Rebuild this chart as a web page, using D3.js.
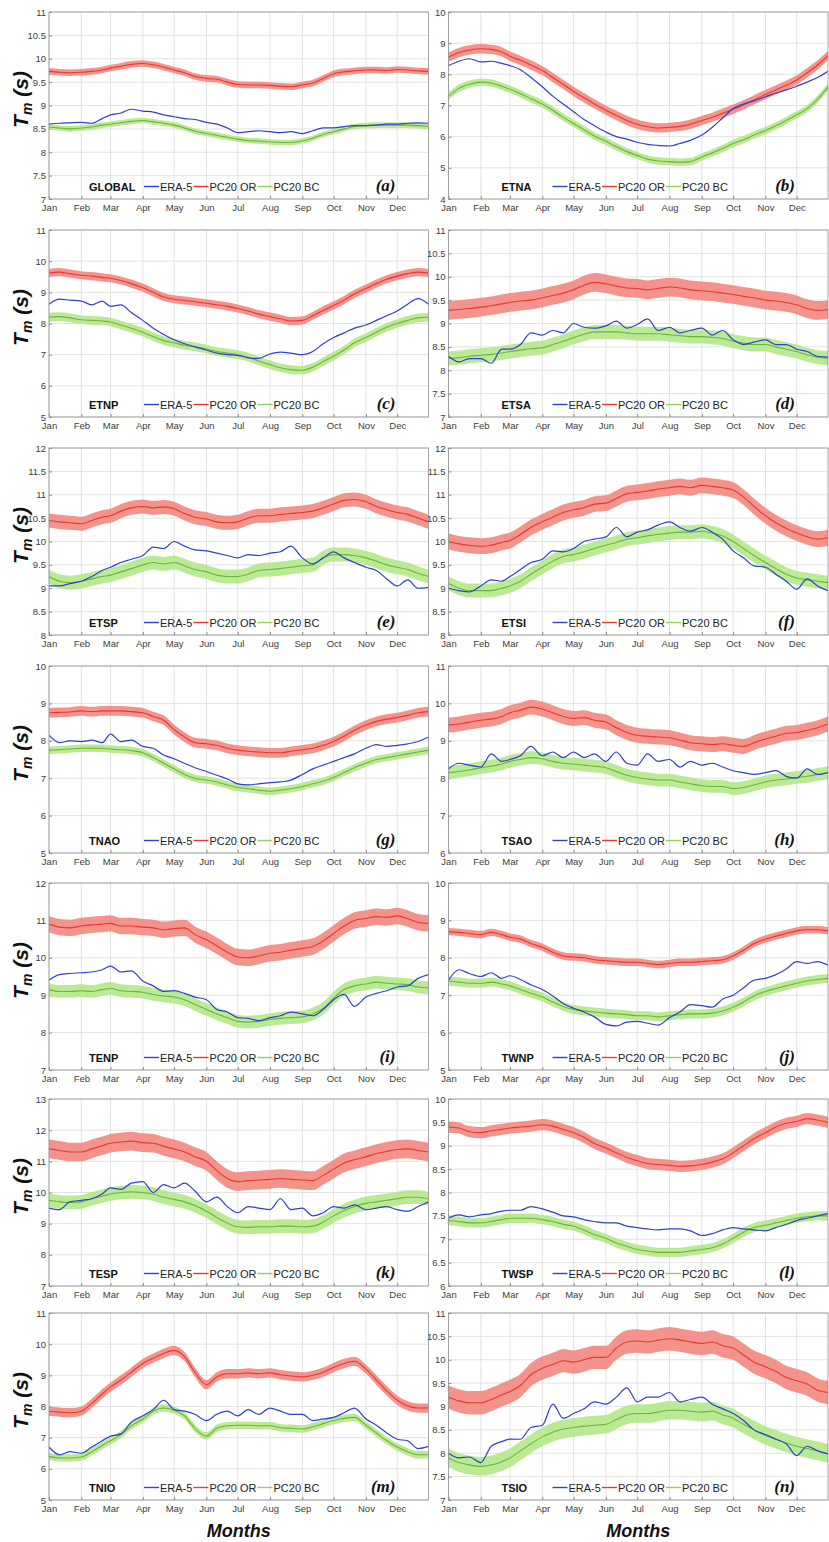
<!DOCTYPE html>
<html>
<head>
<meta charset="utf-8">
<script src="https://cdn.jsdelivr.net/npm/d3@7"></script>
<style>
  html, body { margin: 0; padding: 0; background: #fff; }
  svg { display: block; font-family: "Liberation Sans", Arial, sans-serif; }
</style>
</head>
<body>
<svg id="chart" width="829" height="1542"></svg>
<script>
// ---- data (roughly every 10 days) ----
const days = [1, 11, 21, 32, 42, 52, 60, 70, 80, 91, 101, 111, 121, 131, 141, 152, 162, 172, 182, 192, 202,
  213, 223, 233, 244, 254, 264, 274, 284, 294, 305, 315, 325, 335, 345, 355, 365];
const months = ["Jan", "Feb", "Mar", "Apr", "May", "Jun", "Jul", "Aug", "Sep", "Oct", "Nov", "Dec"];
const monthStartDays = [1, 32, 60, 91, 121, 152, 182, 213, 244, 274, 305, 335];

const regions = ["GLOBAL", "ETNA", "ETNP", "ETSA", "ETSP", "ETSI", "TNAO", "TSAO", "TENP", "TWNP", "TESP", "TWSP", "TNIO", "TSIO"];
const panelTags = ["(a)", "(b)", "(c)", "(d)", "(e)", "(f)", "(g)", "(h)", "(i)", "(j)", "(k)", "(l)", "(m)", "(n)"];
const yDomains = [[7, 11], [4, 10], [5, 11], [7, 11], [8, 12], [8, 12], [5, 10], [6, 11], [7, 12], [5, 10], [7, 13], [6, 10], [5, 11], [7, 11]];
const yTickSteps = [0.5, 1, 1, 0.5, 0.5, 0.5, 1, 1, 1, 1, 1, 0.5, 1, 0.5];
// half width of the shaded spread around PC20 OR and PC20 BC
const orSpread = [0.07, 0.15, 0.13, 0.2, 0.15, 0.17, 0.13, 0.2, 0.22, 0.1, 0.3, 0.12, 0.15, 0.25];
const bcSpread = [0.06, 0.12, 0.14, 0.15, 0.15, 0.15, 0.1, 0.17, 0.17, 0.12, 0.22, 0.1, 0.12, 0.2];

const era_GLOBAL = [8.60, 8.62, 8.63, 8.64, 8.62, 8.72, 8.80, 8.84, 8.92, 8.88, 8.86, 8.80, 8.76, 8.72, 8.70, 8.64, 8.60, 8.52, 8.42, 8.44, 8.46, 8.44, 8.42, 8.44, 8.40, 8.46, 8.52, 8.52, 8.55, 8.57, 8.57, 8.58, 8.60, 8.60, 8.62, 8.63, 8.62];
const or_GLOBAL = [9.73, 9.71, 9.70, 9.71, 9.73, 9.76, 9.80, 9.84, 9.88, 9.90, 9.87, 9.82, 9.76, 9.70, 9.62, 9.58, 9.56, 9.50, 9.45, 9.44, 9.44, 9.43, 9.41, 9.40, 9.44, 9.48, 9.58, 9.68, 9.72, 9.74, 9.76, 9.76, 9.75, 9.77, 9.76, 9.74, 9.73];
const bc_GLOBAL = [8.54, 8.52, 8.50, 8.52, 8.54, 8.58, 8.60, 8.63, 8.66, 8.68, 8.65, 8.62, 8.58, 8.52, 8.45, 8.40, 8.36, 8.32, 8.28, 8.25, 8.24, 8.22, 8.21, 8.21, 8.24, 8.30, 8.38, 8.44, 8.50, 8.55, 8.57, 8.58, 8.58, 8.58, 8.58, 8.57, 8.55];

const era_ETNA = [8.28, 8.42, 8.50, 8.40, 8.42, 8.35, 8.28, 8.15, 7.90, 7.60, 7.30, 7.05, 6.80, 6.55, 6.35, 6.15, 6.00, 5.92, 5.82, 5.75, 5.72, 5.70, 5.78, 5.88, 6.05, 6.30, 6.60, 6.90, 7.05, 7.15, 7.28, 7.40, 7.50, 7.62, 7.75, 7.90, 8.10];
const or_ETNA = [8.55, 8.70, 8.78, 8.82, 8.80, 8.72, 8.58, 8.45, 8.30, 8.12, 7.90, 7.68, 7.45, 7.25, 7.05, 6.85, 6.68, 6.52, 6.40, 6.32, 6.28, 6.30, 6.33, 6.40, 6.52, 6.62, 6.75, 6.88, 7.02, 7.18, 7.35, 7.50, 7.65, 7.82, 8.05, 8.30, 8.60];
const bc_ETNA = [7.30, 7.55, 7.68, 7.75, 7.72, 7.62, 7.52, 7.38, 7.22, 7.05, 6.85, 6.62, 6.42, 6.22, 6.02, 5.85, 5.68, 5.52, 5.40, 5.28, 5.22, 5.20, 5.18, 5.20, 5.35, 5.48, 5.62, 5.78, 5.90, 6.05, 6.20, 6.35, 6.52, 6.70, 6.90, 7.20, 7.60];

const era_ETNP = [8.62, 8.78, 8.75, 8.72, 8.60, 8.72, 8.55, 8.60, 8.35, 8.10, 7.85, 7.65, 7.48, 7.35, 7.25, 7.15, 7.05, 7.00, 6.98, 6.90, 6.88, 7.02, 7.08, 7.05, 7.00, 7.10, 7.35, 7.55, 7.70, 7.85, 7.95, 8.10, 8.25, 8.40, 8.62, 8.80, 8.62];
const or_ETNP = [9.62, 9.65, 9.60, 9.55, 9.52, 9.48, 9.45, 9.38, 9.28, 9.15, 9.00, 8.85, 8.78, 8.74, 8.70, 8.65, 8.60, 8.55, 8.48, 8.40, 8.30, 8.22, 8.15, 8.08, 8.10, 8.25, 8.42, 8.58, 8.75, 8.95, 9.12, 9.28, 9.42, 9.52, 9.60, 9.65, 9.62];
const bc_ETNP = [8.20, 8.22, 8.18, 8.12, 8.10, 8.08, 8.05, 7.95, 7.85, 7.72, 7.58, 7.45, 7.38, 7.30, 7.25, 7.18, 7.10, 7.05, 7.00, 6.92, 6.80, 6.68, 6.58, 6.52, 6.50, 6.60, 6.78, 6.95, 7.15, 7.38, 7.55, 7.72, 7.88, 8.00, 8.10, 8.18, 8.20];

const era_ETSA = [8.30, 8.18, 8.25, 8.25, 8.15, 8.45, 8.45, 8.55, 8.80, 8.75, 8.85, 8.80, 9.00, 8.92, 8.90, 8.95, 9.05, 8.90, 8.98, 9.10, 8.85, 8.92, 8.80, 8.85, 8.90, 8.75, 8.85, 8.65, 8.55, 8.60, 8.65, 8.55, 8.55, 8.45, 8.40, 8.30, 8.28];
const or_ETSA = [9.28, 9.30, 9.32, 9.35, 9.38, 9.42, 9.45, 9.48, 9.50, 9.55, 9.60, 9.65, 9.72, 9.82, 9.88, 9.85, 9.80, 9.76, 9.75, 9.72, 9.75, 9.78, 9.76, 9.72, 9.70, 9.68, 9.65, 9.62, 9.58, 9.55, 9.50, 9.48, 9.45, 9.40, 9.32, 9.28, 9.30];
const bc_ETSA = [8.25, 8.27, 8.30, 8.32, 8.34, 8.37, 8.40, 8.43, 8.46, 8.48, 8.55, 8.62, 8.70, 8.77, 8.82, 8.82, 8.82, 8.80, 8.78, 8.78, 8.78, 8.76, 8.74, 8.72, 8.72, 8.70, 8.68, 8.62, 8.58, 8.55, 8.55, 8.50, 8.45, 8.40, 8.33, 8.28, 8.26];

const era_ETSP = [9.05, 9.05, 9.10, 9.15, 9.25, 9.38, 9.45, 9.55, 9.62, 9.70, 9.88, 9.85, 10.00, 9.90, 9.82, 9.80, 9.75, 9.70, 9.65, 9.72, 9.70, 9.75, 9.78, 9.90, 9.65, 9.52, 9.65, 9.78, 9.65, 9.55, 9.45, 9.38, 9.20, 9.05, 9.18, 9.00, 9.02];
const or_ETSP = [10.45, 10.42, 10.40, 10.38, 10.45, 10.52, 10.55, 10.65, 10.72, 10.75, 10.72, 10.74, 10.70, 10.60, 10.52, 10.48, 10.42, 10.40, 10.42, 10.50, 10.55, 10.55, 10.58, 10.60, 10.62, 10.65, 10.72, 10.80, 10.88, 10.90, 10.85, 10.75, 10.68, 10.62, 10.58, 10.50, 10.42];
const bc_ETSP = [9.25, 9.15, 9.12, 9.15, 9.20, 9.25, 9.28, 9.35, 9.42, 9.50, 9.55, 9.52, 9.55, 9.48, 9.40, 9.35, 9.28, 9.25, 9.25, 9.30, 9.38, 9.40, 9.42, 9.45, 9.48, 9.50, 9.65, 9.72, 9.72, 9.70, 9.65, 9.58, 9.50, 9.45, 9.40, 9.32, 9.25];

const era_ETSI = [9.00, 8.95, 8.92, 9.05, 9.18, 9.15, 9.25, 9.40, 9.55, 9.62, 9.80, 9.78, 9.85, 10.00, 10.05, 10.10, 10.30, 10.10, 10.20, 10.25, 10.35, 10.42, 10.30, 10.22, 10.30, 10.20, 10.05, 9.80, 9.65, 9.48, 9.45, 9.30, 9.15, 8.98, 9.20, 9.05, 8.95];
const or_ETSI = [10.00, 9.95, 9.92, 9.90, 9.92, 9.98, 10.02, 10.15, 10.30, 10.42, 10.52, 10.62, 10.68, 10.72, 10.80, 10.82, 10.92, 11.02, 11.05, 11.08, 11.12, 11.15, 11.18, 11.15, 11.20, 11.18, 11.15, 11.10, 10.95, 10.75, 10.55, 10.40, 10.28, 10.18, 10.10, 10.05, 10.08];
const bc_ETSI = [9.10, 9.00, 8.95, 8.95, 8.95, 9.00, 9.05, 9.15, 9.30, 9.45, 9.58, 9.68, 9.72, 9.78, 9.85, 9.92, 9.98, 10.05, 10.08, 10.12, 10.15, 10.18, 10.20, 10.20, 10.22, 10.18, 10.12, 10.00, 9.85, 9.70, 9.55, 9.42, 9.30, 9.22, 9.18, 9.15, 9.12];

const era_TNAO = [8.15, 7.95, 8.00, 7.98, 8.02, 7.95, 8.18, 7.98, 8.02, 7.85, 7.80, 7.62, 7.52, 7.40, 7.28, 7.18, 7.08, 6.98, 6.85, 6.82, 6.85, 6.88, 6.90, 6.95, 7.10, 7.25, 7.35, 7.45, 7.55, 7.65, 7.80, 7.90, 7.85, 7.88, 7.92, 7.98, 8.10];
const or_TNAO = [8.75, 8.76, 8.77, 8.80, 8.78, 8.80, 8.80, 8.80, 8.78, 8.75, 8.65, 8.55, 8.30, 8.10, 7.95, 7.92, 7.88, 7.80, 7.75, 7.72, 7.70, 7.68, 7.68, 7.72, 7.76, 7.80, 7.88, 7.98, 8.12, 8.28, 8.42, 8.52, 8.58, 8.62, 8.68, 8.75, 8.78];
const bc_TNAO = [7.75, 7.76, 7.78, 7.80, 7.80, 7.80, 7.78, 7.76, 7.74, 7.68, 7.55, 7.40, 7.25, 7.10, 7.00, 6.95, 6.90, 6.82, 6.75, 6.72, 6.68, 6.65, 6.68, 6.72, 6.78, 6.85, 6.92, 7.02, 7.15, 7.28, 7.40, 7.50, 7.55, 7.60, 7.65, 7.70, 7.75];

const era_TSAO = [8.25, 8.40, 8.35, 8.30, 8.65, 8.45, 8.50, 8.60, 8.85, 8.60, 8.70, 8.55, 8.70, 8.55, 8.65, 8.45, 8.70, 8.40, 8.35, 8.65, 8.45, 8.50, 8.30, 8.45, 8.35, 8.40, 8.30, 8.20, 8.15, 8.10, 8.15, 8.20, 8.05, 8.00, 8.25, 8.10, 8.15];
const or_TSAO = [9.42, 9.45, 9.50, 9.55, 9.58, 9.65, 9.75, 9.82, 9.90, 9.85, 9.75, 9.65, 9.60, 9.62, 9.55, 9.50, 9.35, 9.22, 9.15, 9.12, 9.10, 9.08, 9.02, 8.95, 8.92, 8.90, 8.92, 8.88, 8.85, 8.95, 9.05, 9.12, 9.20, 9.22, 9.28, 9.35, 9.45];
const bc_TSAO = [8.15, 8.18, 8.22, 8.28, 8.32, 8.38, 8.45, 8.50, 8.55, 8.52, 8.45, 8.40, 8.38, 8.35, 8.32, 8.28, 8.18, 8.08, 8.02, 7.98, 7.95, 7.95, 7.90, 7.85, 7.80, 7.78, 7.78, 7.72, 7.75, 7.82, 7.90, 7.95, 7.98, 8.02, 8.05, 8.10, 8.15];

const era_TENP = [9.40, 9.55, 9.58, 9.60, 9.62, 9.68, 9.78, 9.62, 9.65, 9.38, 9.25, 9.10, 9.12, 9.05, 8.95, 8.88, 8.62, 8.55, 8.40, 8.38, 8.32, 8.40, 8.45, 8.55, 8.50, 8.45, 8.62, 8.88, 9.02, 8.70, 8.95, 9.05, 9.12, 9.22, 9.25, 9.45, 9.55];
const or_TENP = [10.90, 10.82, 10.80, 10.85, 10.88, 10.90, 10.92, 10.85, 10.85, 10.82, 10.80, 10.75, 10.78, 10.80, 10.62, 10.48, 10.32, 10.15, 10.02, 10.00, 10.05, 10.12, 10.15, 10.20, 10.25, 10.30, 10.45, 10.65, 10.85, 11.00, 11.05, 11.10, 11.08, 11.12, 11.05, 10.95, 10.92];
const bc_TENP = [9.15, 9.10, 9.10, 9.12, 9.10, 9.15, 9.18, 9.12, 9.10, 9.08, 9.02, 8.98, 8.95, 8.88, 8.75, 8.62, 8.50, 8.40, 8.30, 8.28, 8.30, 8.35, 8.38, 8.40, 8.42, 8.50, 8.65, 8.92, 9.15, 9.25, 9.30, 9.35, 9.32, 9.30, 9.28, 9.22, 9.20];

const era_TWNP = [7.40, 7.68, 7.58, 7.50, 7.60, 7.45, 7.52, 7.42, 7.28, 7.15, 6.98, 6.78, 6.65, 6.55, 6.42, 6.22, 6.18, 6.28, 6.30, 6.25, 6.20, 6.40, 6.55, 6.75, 6.72, 6.68, 6.90, 7.00, 7.20, 7.40, 7.45, 7.55, 7.70, 7.90, 7.85, 7.90, 7.80];
const or_TWNP = [8.70, 8.68, 8.65, 8.62, 8.68, 8.62, 8.55, 8.50, 8.38, 8.28, 8.15, 8.05, 8.02, 8.00, 7.95, 7.92, 7.90, 7.88, 7.88, 7.85, 7.82, 7.85, 7.88, 7.88, 7.90, 7.92, 7.95, 8.05, 8.20, 8.38, 8.50, 8.58, 8.65, 8.72, 8.75, 8.75, 8.72];
const bc_TWNP = [7.38, 7.35, 7.32, 7.32, 7.35, 7.30, 7.25, 7.15, 7.05, 6.95, 6.82, 6.70, 6.62, 6.58, 6.55, 6.52, 6.50, 6.48, 6.45, 6.45, 6.42, 6.45, 6.48, 6.50, 6.50, 6.52, 6.58, 6.68, 6.82, 6.98, 7.10, 7.18, 7.25, 7.32, 7.38, 7.42, 7.45];

const era_TESP = [9.50, 9.45, 9.70, 9.75, 9.80, 9.95, 10.15, 10.10, 10.30, 10.35, 10.00, 10.25, 10.15, 10.30, 10.05, 9.70, 9.85, 9.55, 9.35, 9.55, 9.50, 9.45, 9.80, 9.45, 9.50, 9.25, 9.35, 9.55, 9.50, 9.60, 9.45, 9.50, 9.55, 9.45, 9.40, 9.55, 9.70];
const or_TESP = [11.40, 11.35, 11.30, 11.30, 11.40, 11.50, 11.58, 11.62, 11.65, 11.60, 11.58, 11.48, 11.40, 11.30, 11.15, 11.00, 10.70, 10.45, 10.35, 10.38, 10.40, 10.42, 10.45, 10.42, 10.40, 10.38, 10.55, 10.75, 10.95, 11.05, 11.15, 11.25, 11.32, 11.38, 11.40, 11.35, 11.30];
const bc_TESP = [9.75, 9.70, 9.68, 9.70, 9.80, 9.88, 9.95, 10.00, 10.02, 10.00, 9.95, 9.85, 9.78, 9.70, 9.58, 9.40, 9.20, 9.02, 8.90, 8.88, 8.90, 8.90, 8.92, 8.92, 8.90, 8.92, 9.05, 9.25, 9.42, 9.55, 9.65, 9.70, 9.75, 9.80, 9.85, 9.85, 9.80];

const era_TWSP = [7.45, 7.52, 7.48, 7.52, 7.55, 7.60, 7.62, 7.62, 7.70, 7.65, 7.58, 7.50, 7.48, 7.42, 7.38, 7.35, 7.35, 7.28, 7.25, 7.22, 7.20, 7.22, 7.22, 7.18, 7.08, 7.12, 7.20, 7.25, 7.22, 7.20, 7.18, 7.25, 7.32, 7.40, 7.45, 7.50, 7.55];
const or_TWSP = [9.40, 9.38, 9.30, 9.28, 9.32, 9.35, 9.38, 9.40, 9.42, 9.45, 9.42, 9.35, 9.28, 9.18, 9.05, 8.95, 8.85, 8.75, 8.68, 8.62, 8.60, 8.58, 8.56, 8.57, 8.60, 8.65, 8.72, 8.85, 9.00, 9.15, 9.28, 9.40, 9.48, 9.52, 9.58, 9.55, 9.50];
const bc_TWSP = [7.40, 7.38, 7.35, 7.35, 7.38, 7.42, 7.45, 7.45, 7.45, 7.42, 7.38, 7.32, 7.28, 7.20, 7.10, 7.02, 6.92, 6.85, 6.78, 6.75, 6.72, 6.72, 6.72, 6.75, 6.78, 6.82, 6.90, 7.02, 7.15, 7.25, 7.30, 7.35, 7.40, 7.45, 7.48, 7.50, 7.50];

const era_TNIO = [6.70, 6.45, 6.55, 6.50, 6.70, 6.90, 7.05, 7.12, 7.50, 7.70, 7.90, 8.20, 7.90, 7.85, 7.75, 7.55, 7.75, 7.85, 7.70, 7.90, 7.75, 7.95, 7.85, 7.75, 7.75, 7.55, 7.60, 7.65, 7.80, 7.95, 7.60, 7.40, 7.15, 6.95, 6.90, 6.65, 6.72];
const or_TNIO = [7.85, 7.82, 7.80, 7.85, 8.10, 8.40, 8.62, 8.85, 9.10, 9.38, 9.55, 9.70, 9.80, 9.60, 9.10, 8.70, 8.95, 9.05, 9.05, 9.08, 9.05, 9.08, 9.02, 8.98, 8.95, 9.00, 9.10, 9.25, 9.38, 9.45, 9.20, 8.85, 8.50, 8.20, 8.02, 7.95, 7.95];
const bc_TNIO = [6.40, 6.35, 6.35, 6.38, 6.55, 6.75, 6.90, 7.10, 7.38, 7.60, 7.85, 7.95, 7.88, 7.70, 7.30, 7.05, 7.30, 7.38, 7.40, 7.40, 7.38, 7.38, 7.32, 7.30, 7.28, 7.35, 7.45, 7.55, 7.62, 7.65, 7.40, 7.15, 6.90, 6.70, 6.55, 6.45, 6.45];

const era_TSIO = [8.00, 7.90, 7.92, 7.80, 8.15, 8.25, 8.30, 8.30, 8.55, 8.60, 9.05, 8.75, 8.85, 8.95, 9.10, 9.05, 9.20, 9.40, 9.10, 9.20, 9.20, 9.30, 9.10, 9.15, 9.20, 9.05, 8.95, 8.85, 8.70, 8.50, 8.40, 8.30, 8.20, 7.95, 8.15, 8.05, 7.98];
const or_TSIO = [9.20, 9.12, 9.08, 9.08, 9.15, 9.25, 9.32, 9.45, 9.68, 9.82, 9.90, 9.98, 9.95, 10.00, 10.05, 10.05, 10.25, 10.38, 10.40, 10.38, 10.42, 10.45, 10.42, 10.38, 10.35, 10.38, 10.30, 10.25, 10.10, 9.95, 9.85, 9.75, 9.62, 9.55, 9.48, 9.35, 9.30];
const bc_TSIO = [7.90, 7.80, 7.75, 7.72, 7.75, 7.82, 7.90, 8.05, 8.20, 8.35, 8.45, 8.52, 8.55, 8.58, 8.60, 8.62, 8.72, 8.82, 8.85, 8.85, 8.88, 8.92, 8.92, 8.90, 8.88, 8.90, 8.82, 8.75, 8.62, 8.50, 8.38, 8.30, 8.22, 8.15, 8.10, 8.05, 8.00];

const seriesByRegion = {
  GLOBAL: [era_GLOBAL, or_GLOBAL, bc_GLOBAL],
  ETNA: [era_ETNA, or_ETNA, bc_ETNA],
  ETNP: [era_ETNP, or_ETNP, bc_ETNP],
  ETSA: [era_ETSA, or_ETSA, bc_ETSA],
  ETSP: [era_ETSP, or_ETSP, bc_ETSP],
  ETSI: [era_ETSI, or_ETSI, bc_ETSI],
  TNAO: [era_TNAO, or_TNAO, bc_TNAO],
  TSAO: [era_TSAO, or_TSAO, bc_TSAO],
  TENP: [era_TENP, or_TENP, bc_TENP],
  TWNP: [era_TWNP, or_TWNP, bc_TWNP],
  TESP: [era_TESP, or_TESP, bc_TESP],
  TWSP: [era_TWSP, or_TWSP, bc_TWSP],
  TNIO: [era_TNIO, or_TNIO, bc_TNIO],
  TSIO: [era_TSIO, or_TSIO, bc_TSIO]
};

// ---- layout ----
const colLeft = [49, 448.5];
const rowTop = [12, 230, 448, 666, 883, 1099, 1313];
const W = 379.5, H = 187;

const eraColor = "#2e3fd3";
const orColor = "#e5392f", orFill = "#f3877e";
const bcColor = "#6db33b", bcFill = "#b4e88a";
const legendItems = [
  { label: "ERA-5", color: eraColor },
  { label: "PC20 OR", color: orColor },
  { label: "PC20 BC", color: "#8fd35a" }
];

const svg = d3.select("#chart");
const fmt = v => String(+v.toFixed(1));

regions.forEach((region, i) =>
{
  const col = i % 2, row = Math.floor(i / 2);
  const [era, pcOr, pcBc] = seriesByRegion[region];
  const [yMin, yMax] = yDomains[i];

  const g = svg.append("g")
    .attr("transform", `translate(${ colLeft[col] }, ${ rowTop[row] })`);

  const x = d3.scaleLinear().domain([1, 365]).range([0, W]);
  const y = d3.scaleLinear().domain([yMin, yMax]).range([H, 0]);
  const yTicks = d3.range(yMin, yMax + yTickSteps[i] / 2, yTickSteps[i]);

  // Grid
  g.append("g").selectAll("line").data(yTicks)
    .enter().append("line")
    .attr("x1", 0).attr("x2", W)
    .attr("y1", d => y(d)).attr("y2", d => y(d))
    .attr("stroke", "#e2e2e2").attr("stroke-width", 1);

  g.append("g").selectAll("line").data(monthStartDays)
    .enter().append("line")
    .attr("x1", d => x(d)).attr("x2", d => x(d))
    .attr("y1", 0).attr("y2", H)
    .attr("stroke", "#e2e2e2").attr("stroke-width", 1);

  // Axes, ticks pointing inwards
  const yAxis = g.append("g")
    .call(d3.axisLeft(y).tickValues(yTicks).tickFormat(fmt).tickSize(-3).tickPadding(3));
  const xAxis = g.append("g")
    .attr("transform", `translate(0, ${ H })`)
    .call(d3.axisBottom(x).tickValues(monthStartDays).tickFormat((d, k) => months[k]).tickSize(-3).tickPadding(5));

  [yAxis, xAxis].forEach(a =>
  {
    a.select(".domain").remove();
    a.selectAll(".tick line").attr("stroke", "#8a8a8a");
    a.selectAll(".tick text")
      .attr("fill", "#3c3c3c")
      .style("font-size", "9.5px")
      .style("font-family", "'Liberation Sans', Arial, sans-serif");
  });

  // Clip the series to the plot box
  const clipId = `clip-${ i }`;
  g.append("clipPath").attr("id", clipId)
    .append("rect").attr("width", W).attr("height", H);
  const plot = g.append("g").attr("clip-path", `url(#${ clipId })`);

  const line = d3.line()
    .x((d, k) => x(days[k]))
    .y(d => y(d))
    .curve(d3.curveMonotoneX);

  const band = hw => d3.area()
    .x((d, k) => x(days[k]))
    .y0(d => y(d - hw))
    .y1(d => y(d + hw))
    .curve(d3.curveMonotoneX);

  plot.append("path").datum(pcOr)
    .attr("d", band(orSpread[i]))
    .attr("fill", orFill).attr("fill-opacity", 0.9);

  plot.append("path").datum(pcBc)
    .attr("d", band(bcSpread[i]))
    .attr("fill", bcFill).attr("fill-opacity", 0.9);

  [[pcBc, bcColor, 1.1], [pcOr, orColor, 1.1], [era, eraColor, 1.2]].forEach(([data, color, sw]) =>
  {
    plot.append("path").datum(data)
      .attr("d", line)
      .attr("fill", "none")
      .attr("stroke", color)
      .attr("stroke-width", sw)
      .attr("stroke-linejoin", "round");
  });

  // Box
  g.append("rect")
    .attr("width", W).attr("height", H)
    .attr("fill", "none")
    .attr("stroke", "#8f8f8f")
    .attr("stroke-width", 0.8);

  // Region name + legend
  const legY = H - 12.5;
  const nameX = col === 0 ? 40 : 53;
  const nameText = g.append("text")
    .attr("x", nameX)
    .attr("y", legY + 4)
    .style("font-size", "11px")
    .style("font-weight", "bold")
    .attr("fill", "#111")
    .text(region);

  const nameEnd = nameX + nameText.node().getComputedTextLength();
  let lx = Math.max(col === 0 ? 95 : 104, nameEnd + 5);

  legendItems.forEach(item =>
  {
    g.append("line")
      .attr("x1", lx).attr("x2", lx + 15)
      .attr("y1", legY).attr("y2", legY)
      .attr("stroke", item.color).attr("stroke-width", 1.4);
    const t = g.append("text")
      .attr("x", lx + 16)
      .attr("y", legY + 4)
      .style("font-size", "11px")
      .attr("fill", "#222")
      .text(item.label);
    lx += 16 + t.node().getComputedTextLength() + 1;
  });

  // Panel tag
  g.append("text")
    .attr("x", W - 33)
    .attr("y", H - 8)
    .attr("text-anchor", "end")
    .style("font-family", "'Liberation Serif', 'Times New Roman', serif")
    .style("font-size", "17px")
    .style("font-weight", "bold")
    .style("font-style", "italic")
    .attr("fill", "#111")
    .text(panelTags[i]);

  // Y label on left column
  if (col === 0)
  {
    const yl = svg.append("text")
      .attr("transform", `translate(28, ${ rowTop[row] + H / 2 - 6 }) rotate(-90)`)
      .attr("text-anchor", "middle")
      .style("font-size", "21px")
      .style("font-weight", "bold")
      .style("font-style", "italic")
      .attr("fill", "#111");
    yl.append("tspan").text("T");
    yl.append("tspan").attr("dy", 4).style("font-size", "14px").text("m");
    yl.append("tspan").attr("dy", -4).text(" (s)");
  }

  // X label on bottom row
  if (row === rowTop.length - 1)
  {
    svg.append("text")
      .attr("x", colLeft[col] + W / 2)
      .attr("y", rowTop[row] + H + 37)
      .attr("text-anchor", "middle")
      .style("font-size", "18px")
      .style("font-weight", "bold")
      .style("font-style", "italic")
      .attr("fill", "#111")
      .text("Months");
  }
});
</script>
</body>
</html>
